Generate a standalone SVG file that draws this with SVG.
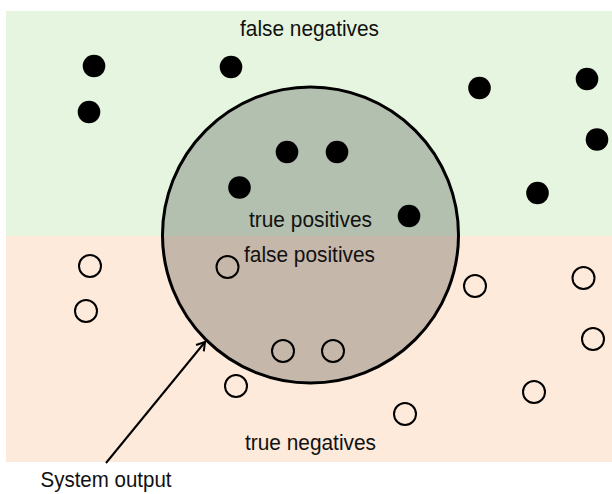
<svg xmlns="http://www.w3.org/2000/svg" width="612" height="494" viewBox="0 0 612 494">
<style>
text{font-family:"Liberation Sans",Arial,sans-serif;font-size:22px;fill:#111}
.pos{fill:#000}
.neg{fill:none;stroke:#000;stroke-width:2}
</style>
<defs>
<marker id="arr" markerWidth="12" markerHeight="12" refX="9" refY="6" orient="auto" markerUnits="userSpaceOnUse">
<path d="M1,1 L9,6 L1,11" fill="none" stroke="#000" stroke-width="2"/>
</marker>
</defs>
<rect id="bg" width="612" height="494" fill="#fff"/>
<g id="region-fn"><rect x="6" y="11" width="606" height="225" fill="#E6F5DF"/></g>
<g id="region-tn"><rect x="6" y="236" width="606" height="226" fill="#FDEADB"/></g>
<g id="system-output"><circle cx="310.5" cy="235" r="148" fill="#000" fill-opacity="0.215" stroke="#000" stroke-width="3"/></g>
<g id="positives">
<circle class="pos" cx="94" cy="66" r="11.3"/>
<circle class="pos" cx="231" cy="67" r="11.3"/>
<circle class="pos" cx="89" cy="112" r="11.3"/>
<circle class="pos" cx="287" cy="152" r="11.3"/>
<circle class="pos" cx="337" cy="152" r="11.3"/>
<circle class="pos" cx="239.5" cy="187.5" r="11.3"/>
<circle class="pos" cx="409" cy="216" r="11.3"/>
<circle class="pos" cx="479.5" cy="88" r="11.3"/>
<circle class="pos" cx="587" cy="79" r="11.3"/>
<circle class="pos" cx="597" cy="139.5" r="11.3"/>
<circle class="pos" cx="537.5" cy="193" r="11.3"/>
</g>
<g id="negatives">
<circle class="neg" cx="90" cy="266" r="11"/>
<circle class="neg" cx="86" cy="311" r="11"/>
<circle class="neg" cx="227.5" cy="267" r="11"/>
<circle class="neg" cx="475" cy="286" r="11"/>
<circle class="neg" cx="583.5" cy="278" r="11"/>
<circle class="neg" cx="593" cy="339" r="11"/>
<circle class="neg" cx="283" cy="351" r="11"/>
<circle class="neg" cx="333" cy="351" r="11"/>
<circle class="neg" cx="236" cy="386" r="11"/>
<circle class="neg" cx="405" cy="414" r="11"/>
<circle class="neg" cx="534" cy="392" r="11"/>
</g>
<g id="connectors">
<line x1="106" y1="463" x2="205" y2="342" stroke="#000" stroke-width="2" marker-end="url(#arr)"/>
</g>
<g id="labels">
<text x="240" y="36" textLength="139" lengthAdjust="spacingAndGlyphs">false negatives</text>
<text x="249" y="226.5" textLength="123" lengthAdjust="spacingAndGlyphs">true positives</text>
<text x="244" y="261.5" textLength="131" lengthAdjust="spacingAndGlyphs">false positives</text>
<text x="245" y="450" textLength="131" lengthAdjust="spacingAndGlyphs">true negatives</text>
<text x="40.5" y="487" textLength="131" lengthAdjust="spacingAndGlyphs">System output</text>
</g>
</svg>
